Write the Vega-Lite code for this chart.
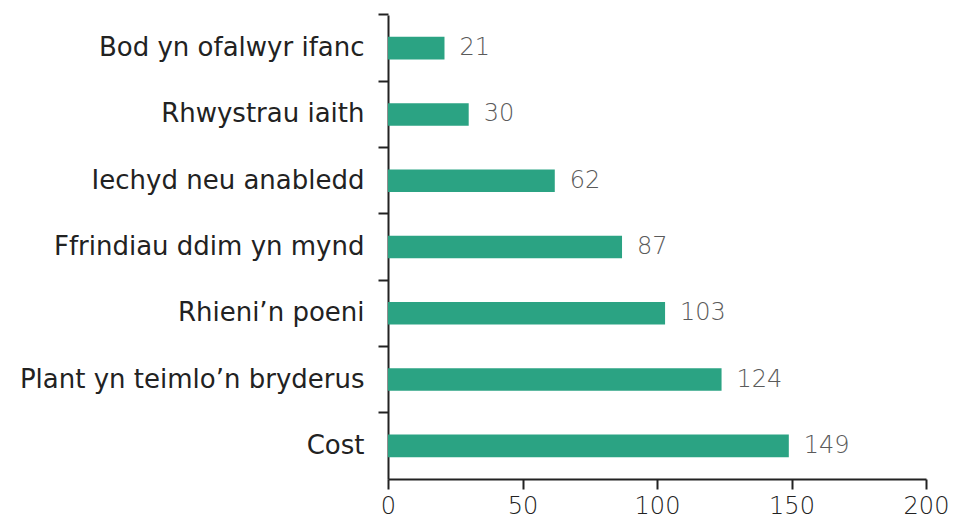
{
  "$schema": "https://vega.github.io/schema/vega-lite/v6.json",
  "autosize": "none",
  "width": 538,
  "height": 464,
  "padding": {"left": 388, "top": 15, "right": 27, "bottom": 45},
  "background": "white",
  "data": {
    "values": [
      {"reason": "Bod yn ofalwyr ifanc", "count": 21},
      {"reason": "Rhwystrau iaith", "count": 30},
      {"reason": "Iechyd neu anabledd", "count": 62},
      {"reason": "Ffrindiau ddim yn mynd", "count": 87},
      {"reason": "Rhieni’n poeni", "count": 103},
      {"reason": "Plant yn teimlo’n bryderus", "count": 124},
      {"reason": "Cost", "count": 149}
    ]
  },
  "config": {
    "view": {"stroke": null},
    "font": "DejaVu Sans"
  },
  "encoding": {
    "y": {
      "field": "reason",
      "type": "nominal",
      "sort": null,
      "scale": {"paddingInner": 0, "paddingOuter": 0},
      "axis": {
        "title": null,
        "bandPosition": 0,
        "domainColor": "#222222",
        "domainWidth": 2,
        "tickColor": "#222222",
        "tickWidth": 2,
        "tickSize": 10,
        "labelFontSize": 26,
        "labelColor": "#222222",
        "labelPadding": 14,
        "labelLimit": 500,
        "labelFont": "DejaVu Sans",
        "grid": false
      }
    },
    "x": {
      "field": "count",
      "type": "quantitative",
      "scale": {"domain": [0, 200], "nice": false},
      "axis": {
        "title": null,
        "values": [0, 50, 100, 150, 200],
        "labelFlush": false,
        "labelOverlap": false,
        "domainColor": "#222222",
        "domainWidth": 2,
        "tickColor": "#222222",
        "tickWidth": 2,
        "tickSize": 10,
        "labelFontSize": 24,
        "labelColor": "#222222",
        "labelPadding": 5,
        "labelFont": "DejaVu Sans",
        "labelFontWeight": 300,
        "grid": false
      }
    }
  },
  "layer": [
    {
      "mark": {"type": "bar", "color": "#2ba383", "height": {"band": 0.34}}
    },
    {
      "mark": {"type": "text", "align": "left", "baseline": "middle", "dx": 15, "fontSize": 24, "fontWeight": 300, "color": "#5a5a5a", "font": "DejaVu Sans"},
      "encoding": {"text": {"field": "count", "type": "quantitative"}}
    }
  ]
}
